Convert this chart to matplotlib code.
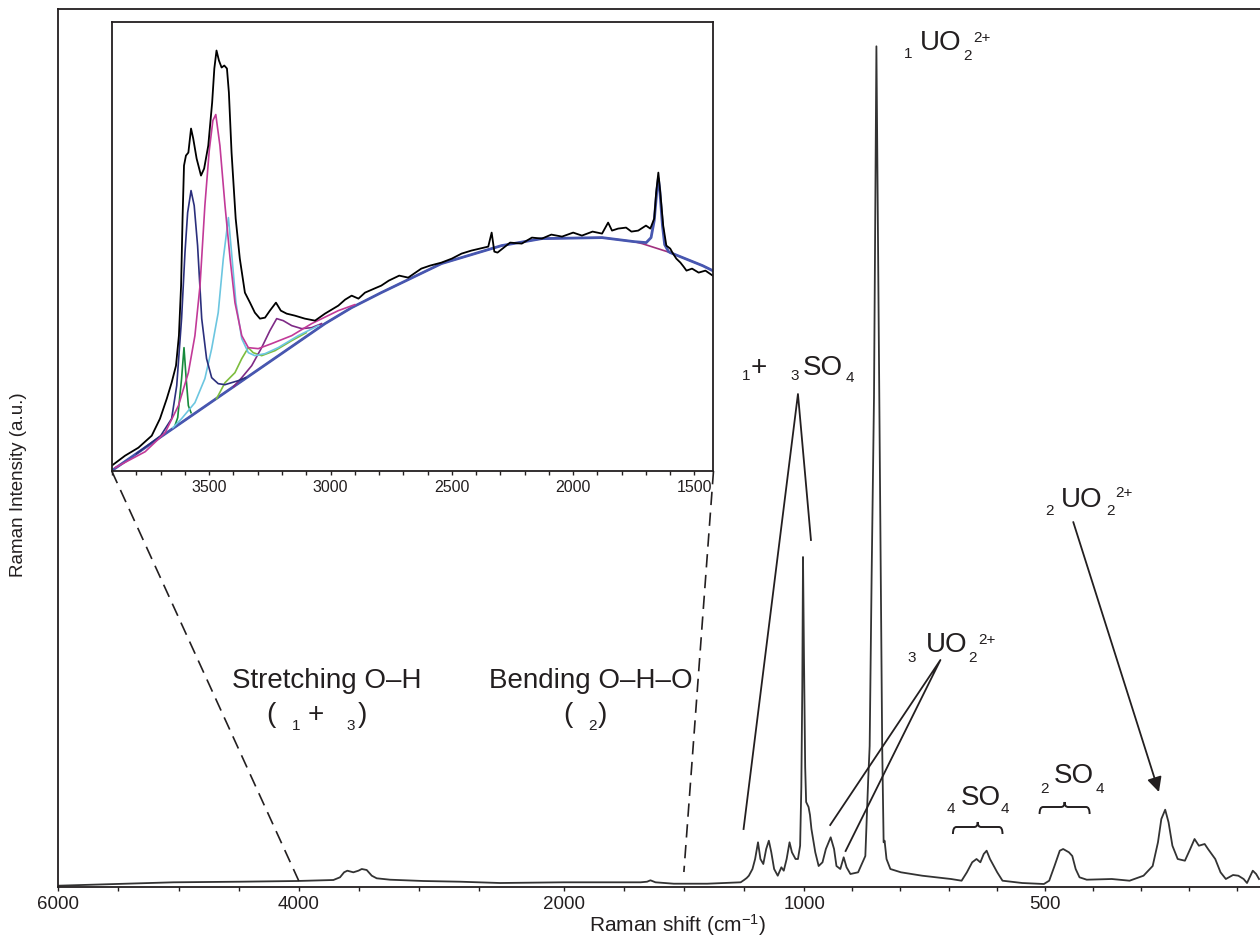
import numpy as np
import matplotlib
matplotlib.use('Agg')
import matplotlib.pyplot as plt
from matplotlib.path import Path
from matplotlib.patches import PathPatch

plt.rcParams['font.family'] = ['Liberation Sans', 'DejaVu Sans']
plt.rcParams['mathtext.fontset'] = 'custom'
plt.rcParams['mathtext.rm'] = 'Liberation Sans'
plt.rcParams['mathtext.default'] = 'regular'

TXT = '#231f20'

# ---- main spectrum (Raman shift, intensity a.u.) ----
main_x = [6000, 5514, 5043, 4489, 4017, 3713, 3658, 3624, 3597, 3547, 3505, 3477, 3436, 3394,
          3353, 3242, 2965, 2660, 2328, 2000, 1680, 1653, 1639, 1618, 1542, 1403, 1264, 1250,
          1239, 1230, 1215, 1204, 1192, 1182, 1170, 1158, 1147, 1137, 1125, 1110, 1095, 1085,
          1073, 1061, 1051, 1036, 1026, 1017, 1012, 1008, 1005, 1001, 998, 996, 991, 988, 985,
          977, 970, 962, 955, 945, 938, 933, 925, 918, 912, 904, 888, 873, 867, 864, 860, 855,
          850, 844, 841, 838, 835, 833, 829, 821, 799, 755, 695, 673, 662, 651, 642, 634, 627,
          621, 614, 606, 599, 588, 547, 502, 491, 480, 469, 462, 450, 443, 436, 428, 413, 361,
          324, 295, 276, 265, 258, 250, 243, 235, 224, 209, 198, 189, 180, 168, 161, 146, 135,
          124, 109, 98, 87, 80, 68, 61, 55]
main_y = [1.3, 3, 4.7, 5.3, 6, 7, 9.7, 14.7, 16.3, 14.7, 16.3, 18, 17, 11.3,
          8.7, 7.3, 6, 5.3, 4, 4.7, 4.7, 5.3, 6.7, 4.7, 3.3, 3.3, 4.7, 7,
          9, 11.3, 18, 28, 44.7, 28, 23, 38, 46.3, 35, 18, 11.3, 19.7, 16.3,
          28, 44.7, 34.7, 28, 28, 41.3, 100, 200, 330, 230, 120, 85, 80, 72, 58,
          34.7, 21, 24.7, 38, 49.7, 38, 21, 18, 29.7, 19.7, 13, 14.7, 31, 108, 141, 308, 490,
          840.7, 490, 308, 141, 44.7, 46.3, 28, 18, 14.7, 11.3, 8, 6.3, 14.7, 24.7, 28, 24.7, 33,
          36.3, 28, 21, 14.7, 6.3, 4, 3, 6.3, 21, 36.3, 38, 34.7, 31, 18, 9.7, 7.3, 8,
          6.3, 11.3, 21, 44.7, 68, 77.3, 64.7, 41.3, 28, 26.3, 38, 48, 41.3, 43, 38, 28, 14.7,
          8, 12, 11.3, 8, 4, 16.3, 13, 8]

# ---- inset: O-H region, measured spectrum ----
ins_x = [3902, 3847, 3792, 3737, 3703, 3675, 3655, 3637, 3625, 3616, 3610, 3604, 3596, 3586,
         3575, 3566, 3552, 3534, 3521, 3504, 3488, 3479, 3470, 3460, 3449, 3438, 3427, 3419,
         3408, 3391, 3374, 3353, 3332, 3312, 3291, 3270, 3250, 3225, 3205, 3181, 3147, 3106,
         3064, 3023, 2968, 2940, 2913, 2885, 2858, 2820, 2791, 2760, 2717, 2680, 2626, 2590,
         2543, 2500, 2460, 2420, 2350, 2336, 2325, 2312, 2260, 2212, 2170, 2129, 2090, 2046,
         2000, 1964, 1920, 1881, 1856, 1840, 1815, 1782, 1760, 1732, 1700, 1682, 1666, 1658,
         1649, 1641, 1629, 1616, 1600, 1591, 1575, 1558, 1545, 1533, 1510, 1483, 1455, 1425]
ins_y = [5, 15, 23, 35, 52, 72, 88, 105, 135, 185, 252, 305, 315, 318,
         342, 332, 312, 295, 302, 325, 368, 402, 420, 410, 403, 405, 402, 378,
         318, 252, 212, 178, 168, 158, 152, 153, 160, 168, 160, 157, 155, 152,
         150, 157, 165, 171, 175, 172, 178, 182, 185, 190, 195, 193, 202, 205,
         208, 212, 217, 220, 224, 238, 219, 218, 228, 227, 233, 232, 236, 234,
         238, 235, 239, 237, 248, 240, 242, 243, 239, 240, 245, 242, 252, 278,
         298, 278, 245, 225, 222, 218, 212, 208, 204, 200, 202, 198, 200, 195]

# fitted baseline and components
base_x = [3902, 3023, 2913, 2791, 2543, 2295, 2129, 1881, 1750, 1716, 1600, 1467, 1425]
base_y = [0, 147, 163, 178, 207, 225, 232, 233, 229, 227, 218, 205, 200]
bend_x = [3902, 3023, 2913, 2791, 2543, 2295, 2129, 1881, 1750, 1699, 1679, 1666, 1655,
          1649, 1643, 1632, 1623, 1607, 1600, 1467, 1425]
bend_y = [0, 147, 163, 178, 207, 225, 232, 233, 229, 228, 233, 250, 280,
          292, 280, 245, 226, 219, 218, 205, 200]
navy_x = [3800, 3700, 3655, 3634, 3614, 3600, 3589, 3575, 3562, 3548, 3531, 3511, 3490,
          3463, 3435, 3408, 3380, 3350]
navy_y = [17, 35, 52, 85, 152, 218, 258, 280, 265, 225, 152, 112, 93, 87, 86, 88, 90, 93]
mag_x = [3888, 3764, 3682, 3627, 3586, 3559, 3538, 3518, 3500, 3485, 3473, 3456, 3435, 3414,
         3394, 3366, 3339, 3298, 3243, 3160, 3078, 2968, 2900]
mag_y = [3, 19, 38, 65, 98, 135, 185, 265, 320, 350, 356, 325, 265, 212, 168, 135, 123, 122,
         127, 135, 147, 160, 166]
cyan_x = [3650, 3614, 3559, 3518, 3490, 3463, 3442, 3421, 3408, 3390, 3366, 3339, 3312, 3270,
          3216, 3133, 3050]
cyan_y = [43, 52, 68, 92, 122, 158, 212, 253, 218, 168, 132, 118, 115, 117, 123, 135, 145]
green_x = [3640, 3630, 3614, 3604, 3596, 3586, 3575]
green_y = [46, 53, 92, 123, 95, 65, 58]
lime_x = [3470, 3435, 3394, 3366, 3339, 3319, 3284, 3229, 3160, 3100]
lime_y = [72, 88, 98, 112, 123, 118, 115, 120, 130, 138]
purp_x = [3400, 3366, 3325, 3284, 3250, 3222, 3195, 3160, 3119, 3078, 3037]
purp_y = [84, 93, 105, 123, 140, 152, 150, 145, 142, 143, 147]

main_major = [6000, 4000, 2000, 1000, 500]
main_minor = [5500, 5000, 4500, 3500, 3000, 2500, 1750, 1500, 1250,
              900, 800, 700, 600, 400, 300, 200, 100]

# piecewise scale: compressed above 2200 and between 2200 and 1000
KX = [-1000, 1000, 2200, 10000]
KU = [-1000, 1000, 1600, 3550]


def fwd(x):
    return np.interp(x, KX, KU)


def inv(u):
    return np.interp(u, KU, KX)


def rich(ax, x, y, parts):
    # parts: (text, size, dx_pt, dy_pt) relative to anchor
    for s, size, dx, dy in parts:
        ax.annotate(s, (x, y), xytext=(dx, dy), textcoords='offset points',
                    fontsize=size, ha='left', va='baseline', color=TXT)


def brace(ax, x1, x2, y_end, y_flat, y_tip):
    xm = (x1 + x2) / 2.0
    r = (x1 - x2) * 0.07
    verts = [(x1, y_end), (x1, y_flat), (x1 - r, y_flat),
             (xm + r, y_flat),
             (xm, y_flat), (xm, y_tip),
             (xm, y_flat), (xm - r, y_flat),
             (x2 + r, y_flat),
             (x2, y_flat), (x2, y_end)]
    codes = [Path.MOVETO, Path.CURVE3, Path.CURVE3, Path.LINETO,
             Path.CURVE3, Path.CURVE3, Path.CURVE3, Path.CURVE3,
             Path.LINETO, Path.CURVE3, Path.CURVE3]
    ax.add_patch(PathPatch(Path(verts, codes), fill=False, lw=1.4, ec=TXT))


fig = plt.figure(figsize=(12.6, 9.37), dpi=100)
ax = fig.add_axes([0.04619, 0.05229, 0.95381, 0.93703])
ax.set_xscale('function', functions=(fwd, inv))
ax.plot(main_x, main_y, color='#333333', lw=1.3)
ax.set_xlim(6000, 53)
ax.set_ylim(0, 878)
ax.set_yticks([])
ax.set_xticks(main_major)
ax.set_xticklabels([str(v) for v in main_major])
ax.set_xticks(main_minor, minor=True)
ax.tick_params(axis='x', which='both', direction='out', length=3, width=1.0,
               labelsize=13.5, pad=3, colors=TXT)
ax.spines['right'].set_visible(False)
for s in ['left', 'bottom', 'top']:
    ax.spines[s].set_linewidth(1.3)
    ax.spines[s].set_color(TXT)
ax.set_xlabel('Raman shift (cm$^{-1}$)', fontsize=15, color=TXT, va='center')
ax.xaxis.set_label_coords(0.515, -0.042)
ax.set_ylabel('Raman Intensity (a.u.)', fontsize=13.5, color=TXT, va='center')
ax.yaxis.set_label_coords(-0.033, 0.459)

# zoom guides
dash = dict(color=TXT, lw=1.2, dashes=(8, 4.5), clip_on=False)
ax.plot([5555, 4000], [416, 6], **dash)
ax.plot([1377, 1500], [416, 15], **dash)

# band annotations
ax.plot([1252, 1026, 986], [58, 493, 347], color=TXT, lw=1.3)
ax.plot([946, 717, 914], [62, 227, 36], color=TXT, lw=1.3)
ax.annotate('', xy=(263, 95), xytext=(441, 365),
            arrowprops=dict(arrowstyle='-|>', lw=1.3, color=TXT, mutation_scale=22,
                            shrinkA=0, shrinkB=0))
brace(ax, 691, 588, 53, 60, 65)
brace(ax, 511, 407, 73, 80, 85)

rich(ax, 793, 838, [('1', 11, 0, -6), ('UO', 20, 11.2, 0), ('2', 11, 42.8, -7.2), ('2+', 11, 49.7, 6)])
rich(ax, 1257, 513, [('1', 11, 0, -3.6), ('+', 20, 6.2, 0), ('3', 11, 34.8, -3.6),
                     ('SO', 20, 43.4, 0), ('4', 11, 74.4, -4.8)])
rich(ax, 785, 236, [('3', 11, 0, -7.2), ('UO', 20, 12.8, 0), ('2', 11, 43.9, -7.2), ('2+', 11, 51, 6)])
rich(ax, 499, 381, [('2', 11, 0, -6), ('UO', 20, 11.4, 0), ('2', 11, 43.8, -6), ('2+', 11, 50, 7.2)])
rich(ax, 704, 83, [('4', 11, 0, -5.8), ('SO', 20, 9.9, 0), ('4', 11, 39.1, -5.8)])
rich(ax, 510, 105, [('2', 11, 0, -7), ('SO', 20, 9.6, 0), ('4', 11, 40, -7)])
ax.text(3766, 200, 'Stretching O\u2013H', fontsize=20, ha='center', va='baseline', color=TXT)
ax.text(1885, 200, 'Bending O\u2013H\u2013O', fontsize=20, ha='center', va='baseline', color=TXT)
rich(ax, 4258, 166, [('(', 20, -1.4, 0), ('1', 11, 17.1, -5.8), ('+', 20, 28.4, 0),
                     ('3', 11, 56.8, -5.8), (')', 20, 64.7, 0)])
rich(ax, 1994, 166, [('(', 20, -1.4, 0), ('2', 11, 16.6, -5.8), (')', 20, 23.3, 0)])

# ---- inset ----
ins = fig.add_axes([0.08865, 0.49658, 0.47698, 0.47940])
ins.plot(base_x, base_y, color='#a0307f', lw=1.2)
ins.plot(bend_x, bend_y, color='#4757b0', lw=2.0)
ins.plot(green_x, green_y, color='#178a3c', lw=1.2)
ins.plot(lime_x, lime_y, color='#7dbd3e', lw=1.2)
ins.plot(purp_x, purp_y, color='#7e2a86', lw=1.2)
ins.plot(cyan_x, cyan_y, color='#6cc6e0', lw=1.2)
ins.plot(navy_x, navy_y, color='#2b2f7c', lw=1.2)
ins.plot(mag_x, mag_y, color='#c23a98', lw=1.2)
ins.plot(ins_x, ins_y, color='black', lw=1.3)
ins.set_xlim(3902, 1425)
ins.set_ylim(0, 449)
ins.set_yticks([])
ins.set_xticks([3500, 3000, 2500, 2000, 1500])
ins.set_xticks(np.arange(3900, 1400, -100), minor=True)
ins.tick_params(axis='x', which='both', direction='out', length=3, width=1.0,
                labelsize=11.5, pad=3, colors=TXT)
for s in ins.spines.values():
    s.set_linewidth(1.3)
    s.set_color(TXT)

fig.savefig('out.png', dpi=100)
